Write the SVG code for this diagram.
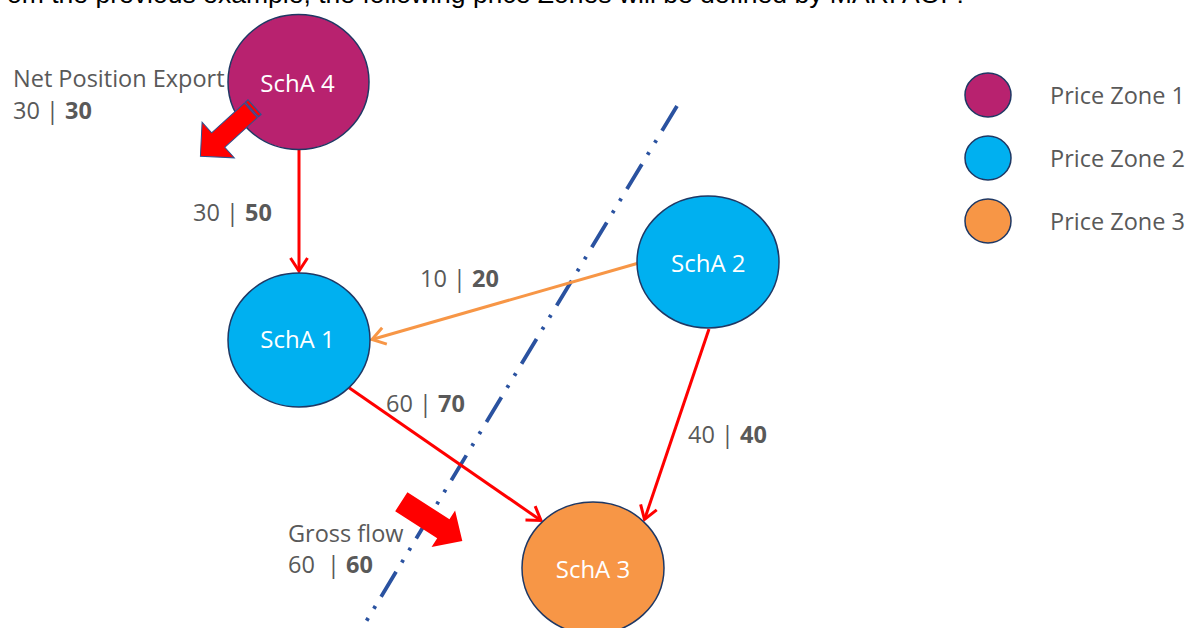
<svg xmlns="http://www.w3.org/2000/svg" width="1185" height="628" viewBox="0 0 1185 628">
<style>
.node{stroke:#1F3864;stroke-width:1.5}
.pz1{fill:#B8226F}.pz2{fill:#00B0F0}.pz3{fill:#F79646}
.nt{font-family:"Open Sans","Liberation Sans",sans-serif;font-size:24px;fill:#FFFFFF;text-anchor:middle}
.lb{font-family:"Open Sans","Liberation Sans",sans-serif;font-size:23.5px;fill:#595959;white-space:pre}
.b{font-weight:bold}
.red{stroke:#FF0000;stroke-width:3;fill:none}
.org{stroke:#F79646;stroke-width:3;fill:none}
</style>
<defs>
<marker id="aR" viewBox="0 0 18 20" markerWidth="18" markerHeight="20" refX="15" refY="10" orient="auto" markerUnits="userSpaceOnUse"><path d="M2,1.5 L15,10 L2,18.5" fill="none" stroke="#FF0000" stroke-width="3"/></marker>
<marker id="aO" viewBox="0 0 18 20" markerWidth="18" markerHeight="20" refX="15" refY="10" orient="auto" markerUnits="userSpaceOnUse"><path d="M2,1.5 L15,10 L2,18.5" fill="none" stroke="#F79646" stroke-width="3"/></marker>
</defs>
<rect width="1185" height="628" fill="#FFFFFF"/>
<text x="7" y="3" font-family="Liberation Sans, Arial, sans-serif" font-size="26.5" fill="#000000" textLength="957" lengthAdjust="spacingAndGlyphs">om the previous example, the following price Zones will be defined by MARI AOF:</text>

<line x1="677" y1="106" x2="361" y2="630" stroke="#2A52A0" stroke-width="3.8" stroke-dasharray="29 11 3 11 3 11"/>

<g id="connectors">
<line class="red" x1="299" y1="150" x2="299" y2="271" marker-end="url(#aR)"/>
<line class="org" x1="637" y1="263.5" x2="372" y2="339.5" marker-end="url(#aO)"/>
<line class="red" x1="348" y1="387" x2="541" y2="520.5" marker-end="url(#aR)"/>
<line class="red" x1="709" y1="329" x2="644.5" y2="519.5" marker-end="url(#aR)"/>
</g>

<g id="scha4">
<ellipse class="node pz1" cx="298.5" cy="82" rx="70.5" ry="67.5"/>
<text class="nt" x="297.5" y="92">SchA 4</text>
</g>
<g id="scha1">
<ellipse class="node pz2" cx="299" cy="340" rx="71" ry="67"/>
<text class="nt" x="297.5" y="348">SchA 1</text>
</g>
<g id="scha2">
<ellipse class="node pz2" cx="708" cy="262" rx="71" ry="66"/>
<text class="nt" x="708.3" y="271.5">SchA 2</text>
</g>
<g id="scha3">
<ellipse class="node pz3" cx="593" cy="568" rx="71" ry="66"/>
<text class="nt" x="593" y="577.5">SchA 3</text>
</g>

<g id="net-position-arrow" transform="translate(250.8,110.5) rotate(137.8)">
<path d="M0,-9.75 L44,-9.75 L44,-24 L68,0 L44,24 L44,9.75 L0,9.75 Z" fill="#FF0000" stroke="#2F528F" stroke-width="1"/>
<rect x="-5" y="-9.75" width="3.5" height="19.5" fill="#FF0000" stroke="#2F528F" stroke-width="1.2"/>
</g>
<g id="gross-flow-arrow" transform="translate(401.3,501.7) rotate(32.8)">
<path d="M0,-11.3 L50,-11.3 L50,-21.7 L72.6,0 L50,21.7 L50,11.3 L0,11.3 Z" fill="#FF0000"/>
</g>

<g id="labels">
<text class="lb" x="13" y="87">Net Position Export</text>
<text class="lb" x="13" y="119">30 | <tspan class="b">30</tspan></text>
<text class="lb" x="193" y="221">30 | <tspan class="b">50</tspan></text>
<text class="lb" x="420" y="287">10 | <tspan class="b">20</tspan></text>
<text class="lb" x="386" y="412">60 | <tspan class="b">70</tspan></text>
<text class="lb" x="688" y="443">40 | <tspan class="b">40</tspan></text>
<text class="lb" x="288" y="542">Gross flow</text>
<text class="lb" x="288" y="573">60  | <tspan class="b">60</tspan></text>
</g>

<g id="legend">
<g id="legend-pz1"><ellipse class="node pz1" cx="988" cy="95" rx="23" ry="22"/><text class="lb" x="1050" y="104">Price Zone 1</text></g>
<g id="legend-pz2"><ellipse class="node pz2" cx="988" cy="158" rx="23" ry="22"/><text class="lb" x="1050" y="167">Price Zone 2</text></g>
<g id="legend-pz3"><ellipse class="node pz3" cx="988" cy="221" rx="23" ry="22"/><text class="lb" x="1050" y="230">Price Zone 3</text></g>
</g>
</svg>
